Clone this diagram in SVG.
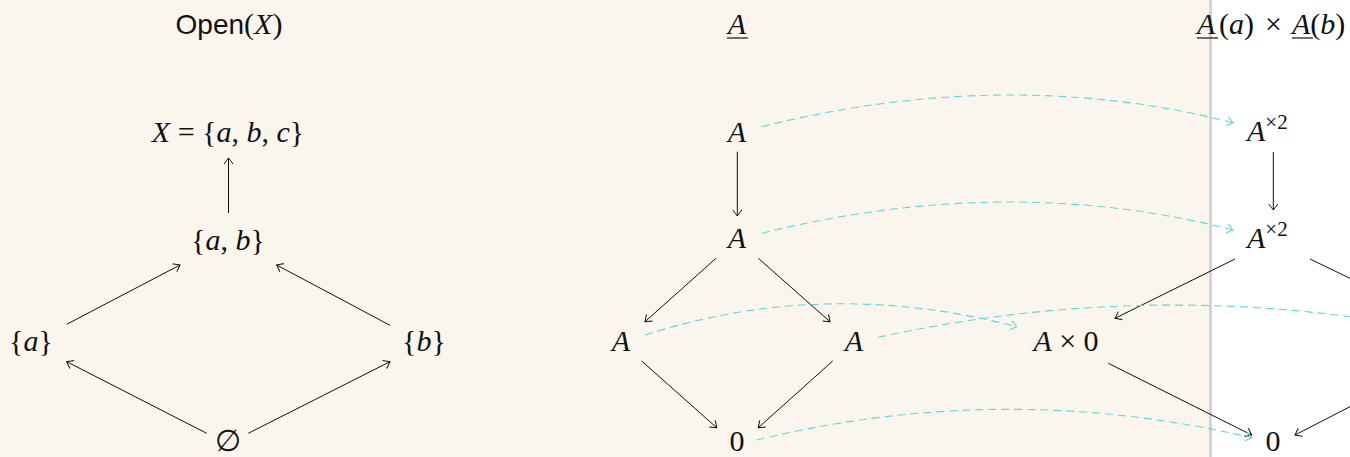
<svg xmlns="http://www.w3.org/2000/svg" width="1350" height="457" viewBox="0 0 1350 457">
<style>
text{font-family:"Liberation Serif","Times New Roman",serif;font-size:30px;fill:#111;}
.n{text-anchor:middle;}
.i{font-style:italic;}
.sans{font-family:"Liberation Sans",Arial,sans-serif;font-size:28px;}
.ar{fill:none;stroke:#111;stroke-width:1;}
.dc{fill:none;stroke:#5fd8da;stroke-width:1.1;stroke-dasharray:8 5;}
.ul{stroke:#111;stroke-width:1.2;}
.sup{font-size:21px;}
</style>
<defs>
<marker id="mb" viewBox="-8 -6 10 12" markerWidth="10" markerHeight="12" refX="0" refY="0" orient="auto" markerUnits="userSpaceOnUse">
<path d="M-6,-4.5 Q-1.5,-1.2 0,0 Q-1.5,1.2 -6,4.5" fill="none" stroke="#111" stroke-width="1"/>
</marker>
<marker id="mc" viewBox="-8 -6 10 12" markerWidth="10" markerHeight="12" refX="0" refY="0" orient="auto" markerUnits="userSpaceOnUse">
<path d="M-6,-4.5 Q-1.5,-1.2 0,0 Q-1.5,1.2 -6,4.5" fill="none" stroke="#5fd8da" stroke-width="1.1"/>
</marker>
</defs>
<rect x="0" y="0" width="1350" height="457" fill="#ffffff"/>
<rect x="0" y="0" width="1209" height="457" fill="#faf6ee"/>
<rect x="1209" y="0" width="3" height="457" fill="#d4d4d4"/>

<g id="titles">
<text x="229" y="34" class="n"><tspan class="sans">Open</tspan>(<tspan class="i">X</tspan>)</text>
<text x="737" y="34" class="n i">A</text>
<line class="ul" x1="727" y1="38" x2="748" y2="38"/>
<text x="1197" y="34"><tspan class="i">A</tspan><tspan x="1219">(<tspan class="i">a</tspan>)</tspan><tspan x="1265">×</tspan><tspan class="i" x="1292">A</tspan>(<tspan class="i">b</tspan>)</text>
<line class="ul" x1="1197" y1="38" x2="1218" y2="38"/>
<line class="ul" x1="1292" y1="38" x2="1313" y2="38"/>
</g>

<g id="connectors">
<line class="ar" marker-end="url(#mb)" x1="228.5" y1="213" x2="228.5" y2="158"/>
<line class="ar" marker-end="url(#mb)" x1="66.7" y1="324.3" x2="180" y2="265"/>
<line class="ar" marker-end="url(#mb)" x1="390" y1="325.3" x2="276.7" y2="265"/>
<line class="ar" marker-end="url(#mb)" x1="206.7" y1="433.3" x2="66.7" y2="361.7"/>
<line class="ar" marker-end="url(#mb)" x1="248.3" y1="433.3" x2="390" y2="361.7"/>

<line class="ar" marker-end="url(#mb)" x1="737.3" y1="151.7" x2="737.3" y2="216"/>
<line class="ar" marker-end="url(#mb)" x1="716" y1="258.3" x2="645" y2="321.7"/>
<line class="ar" marker-end="url(#mb)" x1="758.3" y1="258.3" x2="830" y2="321.7"/>
<line class="ar" marker-end="url(#mb)" x1="641.7" y1="361" x2="716.7" y2="427.7"/>
<line class="ar" marker-end="url(#mb)" x1="832.7" y1="361" x2="758.3" y2="427.7"/>

<line class="ar" marker-end="url(#mb)" x1="1273.3" y1="152" x2="1273.3" y2="210"/>
<line class="ar" marker-end="url(#mb)" x1="1235" y1="259" x2="1115" y2="318.3"/>
<line class="ar" x1="1310" y1="259" x2="1352" y2="279.3"/>
<line class="ar" marker-end="url(#mb)" x1="1108.3" y1="363.3" x2="1251.7" y2="435"/>
<line class="ar" marker-end="url(#mb)" x1="1352" y1="405.7" x2="1295" y2="435"/>

<path class="dc" marker-end="url(#mc)" d="M761.7,126.7 Q1008,65.3 1233,122.7"/>
<path class="dc" marker-end="url(#mc)" d="M761.7,233.3 Q1008,172.4 1233,230"/>
<path class="dc" marker-end="url(#mc)" d="M645,335 Q825,277 1016.7,326.7"/>
<path class="dc" d="M878.3,337.3 Q1172,273 1466,337"/>
<path class="dc" marker-end="url(#mc)" d="M756.7,440 Q1004,379.8 1251.7,437.7"/>
</g>

<g id="n-X"><text x="228" y="142" class="n"><tspan class="i">X</tspan> = {<tspan class="i">a</tspan>, <tspan class="i">b</tspan>, <tspan class="i">c</tspan>}</text></g>
<g id="n-ab"><text x="228" y="250" class="n">{<tspan class="i">a</tspan>, <tspan class="i">b</tspan>}</text></g>
<g id="n-a"><text x="31" y="351" class="n">{<tspan class="i">a</tspan>}</text></g>
<g id="n-b"><text x="424" y="351" class="n">{<tspan class="i">b</tspan>}</text></g>
<g id="n-empty"><text x="228" y="451" class="n">∅</text></g>

<g id="n-A1"><text x="737" y="142" class="n i">A</text></g>
<g id="n-A2"><text x="737" y="248" class="n i">A</text></g>
<g id="n-A3"><text x="621" y="351" class="n i">A</text></g>
<g id="n-A4"><text x="854" y="351" class="n i">A</text></g>
<g id="n-0"><text x="737" y="451" class="n">0</text></g>

<g id="n-B1"><text x="1247" y="141"><tspan class="i">A</tspan><tspan class="sup" dy="-12">×2</tspan></text></g>
<g id="n-B2"><text x="1247" y="248"><tspan class="i">A</tspan><tspan class="sup" dy="-12">×2</tspan></text></g>
<g id="n-A0"><text x="1066" y="351" class="n"><tspan class="i">A</tspan> × 0</text></g>
<g id="n-B0"><text x="1273" y="451" class="n">0</text></g>
</svg>
